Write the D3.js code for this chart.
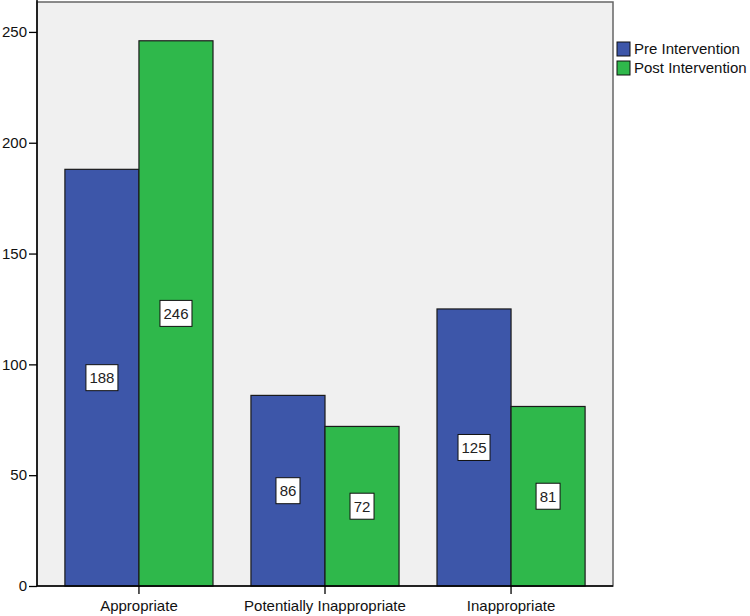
<!DOCTYPE html>
<html>
<head>
<meta charset="utf-8">
<script src="https://cdn.jsdelivr.net/npm/d3@7"></script>
<style>
  body { margin: 0; background: #fff; }
  text { font-family: "Liberation Sans", Arial, sans-serif; }
</style>
</head>
<body>
<svg id="chart" width="750" height="616"></svg>
<script>
let categories = ["Appropriate", "Potentially Inappropriate", "Inappropriate"]
let seriesNames = ["Pre Intervention", "Post Intervention"]
let preValues = [188, 86, 125]
let postValues = [246, 72, 81]
let yTicks = [0, 50, 100, 150, 200, 250]
let colors = ["#3d56a9", "#2fb84b"]

let svg = d3.select("#chart")
let margin = {left: 37, top: 2, right: 137, bottom: 30}
let width = 750 - margin.left - margin.right
let height = 616 - margin.top - margin.bottom

let rows = categories.map((c, i) => ({cat: c, values: [preValues[i], postValues[i]]}))

let x = d3.scaleBand()
      .domain(categories)
      .range([0, width])
      .paddingInner(0.204)
      .paddingOuter(0.15)

let x1 = d3.scaleBand()
      .domain(seriesNames)
      .range([0, x.bandwidth()])

let y = d3.scaleLinear()
      .domain([0, 263.5])
      .range([height, 0])

let g = svg.append("g")
    .attr("transform", `translate(${margin.left},${margin.top})`)

// plot background
g.append("rect")
  .attr("width", width)
  .attr("height", height)
  .attr("fill", "#f0f0f0")
  .attr("stroke", "#666")
  .attr("stroke-width", 1.5)

let groups = g.selectAll(".grp")
   .data(rows)
   .enter()
   .append("g")
    .attr("transform", d => `translate(${x(d.cat)},0)`)

groups.selectAll("rect")
   .data(d => d.values.map((v, i) => ({key: seriesNames[i], v: v, i: i})))
   .enter()
   .append("rect")
    .attr("x", d => x1(d.key))
    .attr("y", d => y(d.v))
    .attr("width", x1.bandwidth())
    .attr("height", d => height - y(d.v))
    .attr("fill", d => colors[d.i])
    .attr("stroke", "#1a1a1a")
    .attr("stroke-width", 1.2)

// value labels in white boxes
let labels = groups.selectAll(".lbl")
   .data(d => d.values.map((v, i) => ({key: seriesNames[i], v: v})))
   .enter()
   .append("g")
    .attr("transform", d => `translate(${x1(d.key) + x1.bandwidth() / 2},${y(d.v / 2)})`)

labels.append("rect")
    .attr("x", d => String(d.v).length > 2 ? -16 : -12)
    .attr("y", -13)
    .attr("width", d => String(d.v).length > 2 ? 32 : 24)
    .attr("height", 26)
    .attr("fill", "#fff")
    .attr("stroke", "#111")
    .attr("stroke-width", 1)

labels.append("text")
    .attr("text-anchor", "middle")
    .attr("dy", "0.36em")
    .attr("font-size", 15)
    .attr("fill", "#222")
    .text(d => d.v)

// axes
let yAxis = g.append("g")
    .call(d3.axisLeft(y).tickValues(yTicks).tickSize(8).tickPadding(2))
yAxis.select(".domain").attr("d", `M0,${-margin.top}V${height}`).attr("stroke-width", 1.5)
yAxis.selectAll("text").attr("font-size", 15).attr("fill", "#111").attr("font-family", null)
yAxis.selectAll("line").attr("stroke-width", 1.3)

let xAxis = g.append("g")
    .attr("transform", `translate(0,${height})`)
    .call(d3.axisBottom(x).tickSize(8).tickPadding(6))
xAxis.select(".domain").attr("d", `M0,0H${width}`).attr("stroke-width", 1.5)
xAxis.selectAll("text").attr("font-size", 15).attr("fill", "#111").attr("font-family", null)
xAxis.selectAll("line").attr("stroke-width", 1.3)

// legend
let legend = svg.append("g")
    .attr("transform", `translate(${margin.left + width + 4},42)`)

let items = legend.selectAll("g")
   .data(seriesNames)
   .enter()
   .append("g")
    .attr("transform", (d, i) => `translate(0,${i * 19})`)

items.append("rect")
    .attr("width", 13)
    .attr("height", 14)
    .attr("fill", (d, i) => colors[i])
    .attr("stroke", "#111")

items.append("text")
    .attr("x", 17)
    .attr("y", 12)
    .attr("font-size", 15)
    .attr("fill", "#111")
    .text(d => d)
</script>
</body>
</html>
